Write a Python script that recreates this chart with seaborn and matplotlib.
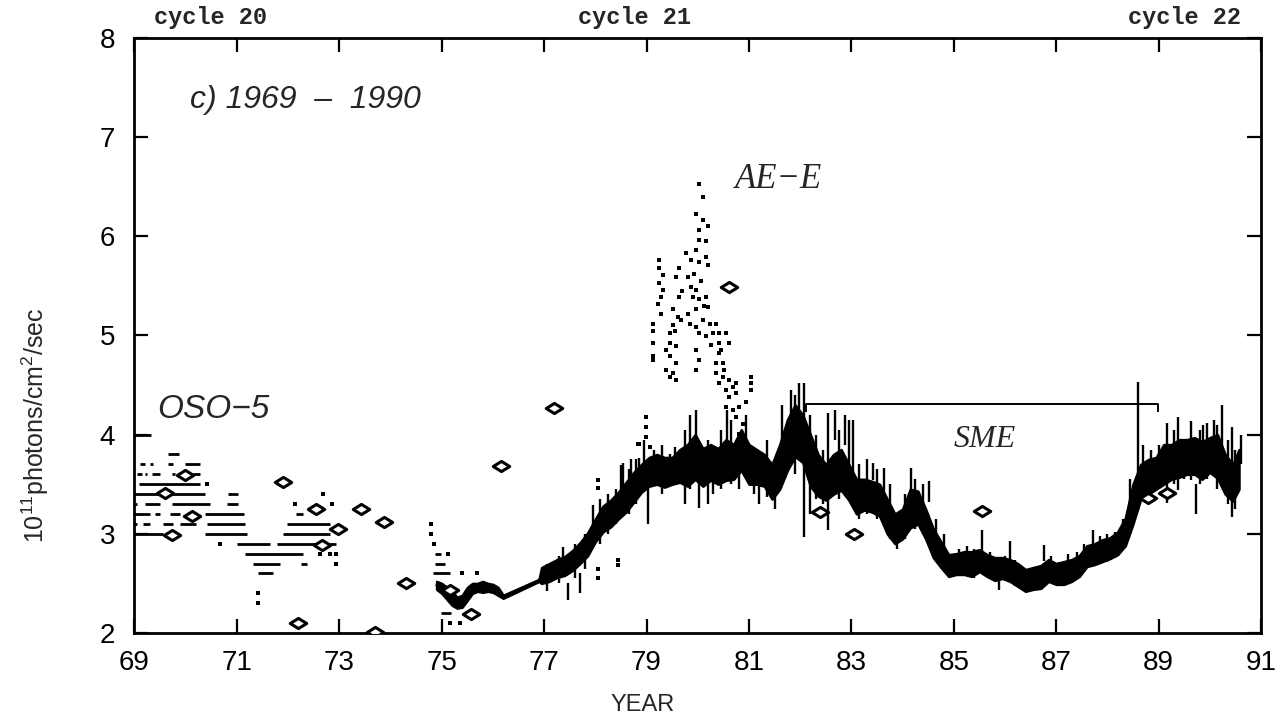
import numpy as np
import pandas as pd
import matplotlib
matplotlib.use("Agg")
import matplotlib.pyplot as plt
from matplotlib.path import Path
from matplotlib.transforms import blended_transform_factory
import seaborn as sns

# ---------------- data ----------------
# OSO-5 daily values (rounded to 0.1): runs drawn as horizontal dashes
oso_start = [69.00, 70.31, 69.11, 69.66, 69.11, 69.30, 69.66, 69.99,
             69.04, 69.20, 69.34, 69.73, 70.15, 69.08, 69.00, 69.66,
             70.83, 69.00, 69.20, 69.73, 70.80, 69.00, 69.40, 69.69,
             70.38, 72.16, 69.00, 69.17, 69.56, 69.89, 70.41, 71.97,
             69.00, 70.38, 71.90, 71.00, 71.78, 71.16, 71.32, 72.26,
             71.42]
oso_end = [69.33, 70.31, 69.11, 69.86, 69.20, 69.37, 69.76, 70.28,
           69.14, 69.24, 69.50, 69.80, 70.28, 70.28, 69.50, 70.38,
           71.03, 69.04, 69.50, 70.47, 71.03, 69.30, 69.50, 69.89,
           71.13, 72.29, 69.04, 69.30, 69.76, 70.21, 71.16, 72.81,
           69.56, 71.19, 72.81, 71.65, 72.94, 72.29, 71.84, 72.36,
           71.71]
oso_level = [4.0, 4.0, 3.8, 3.8, 3.7, 3.7, 3.7, 3.7,
             3.6, 3.6, 3.6, 3.6, 3.6, 3.5, 3.4, 3.4,
             3.4, 3.3, 3.3, 3.3, 3.3, 3.2, 3.2, 3.2,
             3.2, 3.2, 3.1, 3.1, 3.1, 3.1, 3.1, 3.1,
             3.0, 3.0, 3.0, 2.9, 2.9, 2.8, 2.7, 2.7,
             2.6]
# isolated OSO-5 days and the sparse 1975 values
dot_year = [70.41, 72.69, 72.13, 72.85, 70.67, 72.62, 72.81, 72.94, 72.94,
            71.42, 71.42, 74.79, 74.79, 74.84, 75.12, 75.40, 75.69,
            75.16, 75.35]
dot_value = [3.5, 3.4, 3.3, 3.3, 2.9, 2.8, 2.8, 2.8, 2.7,
             2.4, 2.3, 3.1, 3.0, 2.9, 2.8, 2.6, 2.6,
             2.1, 2.1]
early_start = [74.86, 74.86, 74.83, 74.99]
early_end = [74.99, 75.06, 75.16, 75.19]
early_level = [2.8, 2.7, 2.6, 2.2]

# AE-E / SME daily series: lower and upper envelope of the daily scatter
band_year = [74.90, 75.00, 75.10, 75.20, 75.30, 75.40, 75.50, 75.60, 75.70,
             75.80, 75.90, 76.00, 76.10, 76.20, 76.90, 76.95, 77.10, 77.25,
             77.40, 77.55, 77.70, 77.85, 78.00, 78.15, 78.30, 78.45, 78.60,
             78.75, 78.90, 79.05, 79.20, 79.35, 79.50, 79.65, 79.80, 79.95,
             80.10, 80.25, 80.40, 80.55, 80.70, 80.85, 81.00, 81.15, 81.30,
             81.45, 81.60, 81.75, 81.90, 82.05, 82.20, 82.35, 82.50, 82.65,
             82.80, 82.95, 83.10, 83.25, 83.40, 83.55, 83.70, 83.85, 84.00,
             84.15, 84.30, 84.45, 84.60, 84.75, 84.90, 85.05, 85.20, 85.35,
             85.50, 85.65, 85.80, 85.95, 86.10, 86.25, 86.40, 86.55, 86.70,
             86.85, 87.00, 87.15, 87.30, 87.45, 87.60, 87.75, 87.90, 88.05,
             88.20, 88.35, 88.50, 88.65, 88.80, 88.95, 89.10, 89.25, 89.40,
             89.55, 89.70, 89.85, 90.00, 90.15, 90.30, 90.45, 90.57]
band_lo = [2.44, 2.40, 2.34, 2.28, 2.25, 2.26, 2.33, 2.40, 2.42,
           2.41, 2.42, 2.41, 2.38, 2.35, 2.52, 2.50, 2.52, 2.56,
           2.58, 2.63, 2.70, 2.78, 2.92, 3.02, 3.07, 3.15, 3.22,
           3.32, 3.42, 3.48, 3.50, 3.47, 3.50, 3.52, 3.48, 3.55,
           3.48, 3.54, 3.50, 3.54, 3.55, 3.64, 3.50, 3.50, 3.48,
           3.35, 3.45, 3.64, 3.78, 3.72, 3.48, 3.38, 3.34, 3.40,
           3.44, 3.34, 3.20, 3.24, 3.22, 3.18, 3.00, 2.90, 2.95,
           3.06, 3.10, 2.95, 2.76, 2.66, 2.57, 2.59, 2.59, 2.57,
           2.62, 2.57, 2.53, 2.55, 2.52, 2.47, 2.42, 2.44, 2.45,
           2.52, 2.49, 2.49, 2.52, 2.57, 2.67, 2.69, 2.72, 2.75,
           2.79, 2.88, 3.10, 3.35, 3.40, 3.45, 3.50, 3.55, 3.57,
           3.60, 3.60, 3.55, 3.62, 3.56, 3.40, 3.33, 3.45]
band_hi = [2.52, 2.50, 2.46, 2.42, 2.36, 2.38, 2.46, 2.50, 2.50,
           2.52, 2.50, 2.49, 2.46, 2.38, 2.54, 2.66, 2.70, 2.74,
           2.77, 2.83, 2.91, 3.01, 3.15, 3.28, 3.34, 3.42, 3.52,
           3.62, 3.70, 3.77, 3.80, 3.77, 3.77, 3.85, 3.90, 4.00,
           3.86, 3.90, 3.86, 3.95, 3.90, 4.05, 3.90, 3.85, 3.80,
           3.70, 3.90, 4.15, 4.30, 4.20, 4.00, 3.80, 3.70, 3.80,
           3.85, 3.70, 3.55, 3.55, 3.53, 3.50, 3.35, 3.20, 3.25,
           3.45, 3.43, 3.25, 3.05, 2.92, 2.79, 2.80, 2.82, 2.82,
           2.84, 2.79, 2.76, 2.76, 2.74, 2.70, 2.64, 2.66, 2.68,
           2.74, 2.70, 2.72, 2.74, 2.78, 2.88, 2.90, 2.94, 2.96,
           3.02, 3.16, 3.50, 3.70, 3.75, 3.77, 3.90, 3.90, 3.95,
           3.95, 3.97, 3.93, 3.97, 4.00, 3.80, 3.70, 3.85]

# single-day excursions above/below the daily envelope
spike_year = [77.37, 77.46, 77.70, 77.95, 78.50, 78.54, 78.86, 79.02, 79.56,
              79.97, 80.03, 80.58, 81.35, 81.82, 81.98, 82.08, 82.55, 82.68,
              82.87, 82.96, 83.03, 83.42, 83.64, 83.90, 84.16, 84.52, 84.85,
              85.56, 85.88, 86.09, 86.43, 86.60, 86.77, 87.23, 87.72, 88.59,
              89.17, 89.37, 89.64, 89.73, 89.87, 90.09, 90.24, 90.44, 90.60,
              77.05, 77.30, 77.60, 77.80, 78.10, 78.25, 78.40, 78.65, 78.80,
              78.70, 78.95, 79.15, 79.30, 79.45, 79.75, 79.85, 80.20, 80.30,
              80.45, 80.65, 80.80, 80.95, 81.10, 81.20, 81.50, 81.65, 81.90,
              82.20, 82.30, 82.45, 82.75, 83.15, 83.30, 83.50, 83.75, 84.05,
              84.25, 84.40, 84.65, 84.80, 85.10, 85.25, 85.40, 85.70, 86.00,
              86.20, 86.35, 86.90, 87.05, 87.40, 87.55, 87.85, 88.00, 88.15,
              88.30, 88.45, 88.70, 88.85, 89.00, 89.30, 89.50, 89.80, 89.95,
              90.15, 90.35, 90.50]
spike_lo = [2.64, 2.33, 2.40, 3.04, 3.44, 3.31, 3.54, 3.10, 3.58,
            3.80, 3.26, 3.78, 3.37, 3.95, 4.05, 2.97, 3.04, 3.95,
            3.90, 3.64, 3.37, 3.54, 3.34, 2.85, 3.17, 3.32, 2.60,
            2.80, 2.43, 2.73, 2.47, 2.45, 2.73, 2.65, 2.85, 3.24,
            3.31, 3.44, 3.54, 3.20, 3.60, 3.60, 3.81, 3.17, 3.70,
            2.42, 2.50, 2.55, 2.65, 2.90, 3.00, 3.10, 3.20, 3.30,
            3.35, 3.45, 3.50, 3.40, 3.50, 3.30, 3.45, 3.30, 3.40,
            3.45, 3.50, 3.45, 3.60, 3.40, 3.30, 3.25, 3.50, 3.60,
            3.20, 3.35, 3.30, 3.35, 3.15, 3.20, 3.15, 2.95, 2.95,
            3.05, 3.00, 2.75, 2.65, 2.58, 2.58, 2.55, 2.55, 2.52,
            2.47, 2.42, 2.50, 2.48, 2.55, 2.62, 2.70, 2.72, 2.76,
            2.85, 3.00, 3.35, 3.40, 3.45, 3.50, 3.55, 3.50, 3.55,
            3.45, 3.30, 3.25]
spike_hi = [2.87, 2.50, 2.60, 3.29, 3.69, 3.71, 3.76, 3.54, 3.88,
            4.25, 3.55, 4.25, 3.95, 4.45, 4.52, 4.52, 4.22, 4.25,
            4.20, 4.15, 4.15, 3.71, 3.66, 3.10, 3.66, 3.53, 2.75,
            3.04, 2.55, 2.93, 2.60, 2.58, 2.89, 2.80, 3.04, 4.53,
            4.12, 4.18, 4.14, 3.50, 4.10, 4.15, 4.30, 4.08, 4.00,
            2.70, 2.78, 2.90, 3.00, 3.35, 3.40, 3.45, 3.65, 3.75,
            3.75, 3.95, 3.85, 3.90, 3.80, 4.05, 4.20, 3.95, 3.85,
            4.05, 4.15, 3.90, 4.20, 3.85, 3.75, 3.65, 4.30, 4.40,
            4.20, 4.00, 3.85, 4.05, 3.70, 3.75, 3.65, 3.50, 3.40,
            3.55, 3.50, 3.15, 3.00, 2.85, 2.88, 2.85, 2.82, 2.78,
            2.74, 2.66, 2.78, 2.72, 2.82, 2.90, 2.98, 3.00, 3.02,
            3.15, 3.55, 3.90, 3.85, 3.90, 4.05, 3.95, 4.05, 4.12,
            4.10, 3.95, 3.85]

# AE-E scattered daily points above the main trace
aee_year = [80.03, 80.10, 79.97, 80.10, 80.03, 80.20, 80.03, 80.16, 79.97, 79.77,
            79.87, 80.03, 80.16, 80.20, 79.25, 79.25, 79.32, 79.25, 79.32, 79.29,
            79.22, 79.29, 79.12, 79.12, 79.12, 79.12, 79.38, 79.45, 79.51, 79.61,
            79.51, 79.64, 79.58, 79.64, 79.81, 79.87, 79.97, 79.90, 80.03, 80.16,
            80.20, 79.97, 79.81, 79.68, 79.84, 79.97, 80.10, 80.23, 80.29, 80.03,
            80.16, 79.45, 79.58, 79.45, 79.58, 79.51, 79.58, 79.45, 79.38, 79.12,
            79.97, 80.03, 79.97, 80.36, 80.42, 80.42, 80.55, 80.62, 80.42, 80.36,
            80.49, 80.36, 80.49, 80.62, 80.42, 80.55, 80.68, 80.75, 80.75, 80.62,
            80.55, 80.68, 80.81, 80.94, 81.04, 81.04, 81.04, 80.75, 80.88, 80.81,
            78.99, 78.99, 78.99, 79.06, 78.86, 78.05, 78.05, 78.44, 78.44, 78.05,
            78.05, 78.84, 80.07, 79.93, 80.13, 79.70, 79.55, 80.25, 80.46, 80.52]
aee_value = [6.53, 6.40, 6.23, 6.16, 6.06, 6.10, 5.96, 5.95, 5.86, 5.83,
             5.76, 5.74, 5.79, 5.71, 5.76, 5.68, 5.61, 5.53, 5.46, 5.39,
             5.32, 5.22, 5.12, 5.05, 4.92, 4.79, 4.85, 5.02, 5.11, 5.19,
             5.27, 5.39, 5.59, 5.68, 5.59, 5.49, 5.46, 5.39, 5.37, 5.39,
             5.29, 5.27, 5.22, 5.16, 5.12, 5.09, 5.16, 5.12, 5.02, 5.02,
             4.99, 4.92, 4.89, 4.79, 4.72, 4.62, 4.55, 4.58, 4.65, 4.75,
             4.85, 4.75, 4.65, 5.12, 5.02, 4.92, 5.02, 4.92, 4.82, 4.72,
             4.72, 4.62, 4.58, 4.55, 4.52, 4.45, 4.48, 4.52, 4.42, 4.38,
             4.28, 4.25, 4.28, 4.33, 4.58, 4.45, 4.52, 4.18, 4.11, 4.01,
             4.18, 4.08, 3.98, 3.88, 3.91, 3.54, 3.46, 2.74, 2.69, 2.65,
             2.55, 3.91, 5.55, 5.62, 5.30, 5.45, 5.05, 4.90, 4.85, 4.65]

# independent daily determinations (open diamonds)
dia_year = [69.60, 69.73, 69.99, 70.12, 71.90, 72.20, 72.55, 72.67, 72.98,
            73.43, 73.69, 73.87, 74.31, 75.16, 75.58, 76.16, 77.20, 80.62,
            82.38, 83.06, 85.56, 88.79, 89.17]
dia_value = [3.41, 2.99, 3.59, 3.18, 3.52, 2.10, 3.25, 2.89, 3.05,
             3.25, 2.01, 3.12, 2.50, 2.43, 2.19, 3.68, 4.27, 5.49,
             3.22, 3.00, 3.23, 3.36, 3.41]

# SME operating interval
sme_span = [82.12, 88.98]
sme_level = 4.31

x_ticks = list(range(69, 92, 2))
y_ticks = [2, 3, 4, 5, 6, 7, 8]

# ---------------- plotting ----------------
sns.set_theme(style="ticks")
plt.rcParams["font.family"] = ["Liberation Sans", "DejaVu Sans"]
plt.rcParams["mathtext.fontset"] = "custom"
plt.rcParams["mathtext.rm"] = "Liberation Sans"

fig = plt.figure(figsize=(12.87, 7.21), dpi=100)
ax = fig.add_axes([0.1045, 0.1221, 0.8753, 0.8252])
ink = "black"

band = pd.DataFrame({"year": band_year, "lo": band_lo, "hi": band_hi})
band["mid"] = (band["lo"] + band["hi"]) / 2
ax.fill_between(band["year"], band["lo"], band["hi"], color=ink, lw=1.8,
                edgecolor=ink)
sns.lineplot(data=band, x="year", y="mid", color=ink, lw=1.8, ax=ax,
             legend=False)
ax.vlines(spike_year, spike_lo, spike_hi, color=ink, lw=1.7)

ax.hlines(oso_level, oso_start, oso_end, color=ink, lw=2.0)
ax.hlines(early_level, early_start, early_end, color=ink, lw=2.0)
sns.scatterplot(x=dot_year, y=dot_value, marker="s", s=7, color=ink,
                edgecolor=ink, linewidth=0, ax=ax, legend=False)
sns.scatterplot(x=aee_year, y=aee_value, marker="s", s=10, color=ink,
                edgecolor=ink, linewidth=0, ax=ax, legend=False)

lens = Path([(-1.0, 0.0), (0.0, 0.62), (1.0, 0.0), (0.0, -0.62), (-1.0, 0.0)],
            [Path.MOVETO, Path.LINETO, Path.LINETO, Path.LINETO, Path.CLOSEPOLY])
sns.scatterplot(x=dia_year, y=dia_value, marker=lens, s=140, color="white",
                edgecolor=ink, linewidth=2.2, ax=ax, legend=False, zorder=5)

# SME bracket
ax.plot(sme_span, [sme_level, sme_level], color=ink, lw=1.4)
ax.vlines(sme_span, sme_level - 0.08, sme_level, color=ink, lw=1.4)

ax.set_xlim(69, 91)
ax.set_ylim(2, 8)
ax.set_xticks(x_ticks)
ax.set_xticklabels([str(t) for t in x_ticks])
ax.set_yticks(y_ticks)
ax.set_yticklabels([str(t) for t in y_ticks])
ax.tick_params(axis="both", direction="in", length=10, width=1.6,
               labelsize=20, colors=ink, top=True, right=True)
ax.tick_params(axis="x", pad=12)
ax.tick_params(axis="y", pad=14)
for side in ax.spines.values():
    side.set_linewidth(2.0)
    side.set_color(ink)
ax.set_xlabel("")
ax.set_ylabel("")

fig.text(35 / 1287, 1 - 425 / 721, r"$10^{11}$photons/cm$^2$/sec",
         rotation=90, ha="center", va="center", fontsize=18)
fig.text(643 / 1287, 1 - 705 / 721, "YEAR", ha="center", va="center",
         fontsize=17)

top = blended_transform_factory(ax.transData, ax.transAxes)
mono = ["Liberation Mono", "DejaVu Sans Mono"]
for cyc_x, cyc_label in zip([70.49, 78.77, 89.5],
                            ["cycle 20", "cycle 21", "cycle 22"]):
    ax.text(cyc_x, 1.035, cyc_label, transform=top, ha="center",
            va="center", fontsize=17, family=mono, fontweight="bold")

ax.text(70.08, 7.37, "c) 1969  \u2013  1990", ha="left", va="center",
        fontsize=23, style="italic")
ax.text(69.44, 4.25, "OSO\u22125", ha="left", va="center", fontsize=24,
        style="italic")
ax.text(80.72, 6.57, "AE\u2212E", ha="left", va="center", fontsize=25,
        style="italic", family=["Liberation Serif", "DejaVu Serif"])
ax.text(85.0, 3.95, "SME", ha="left", va="center", fontsize=23,
        style="italic", family=["Liberation Serif", "DejaVu Serif"])

fig.savefig("out.png", dpi=100, facecolor="white")
